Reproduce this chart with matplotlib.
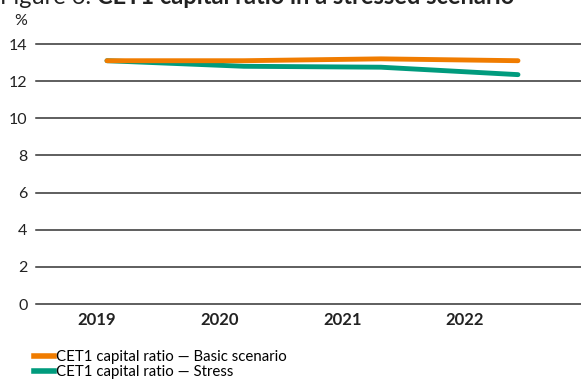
import matplotlib
matplotlib.use("Agg")
import matplotlib.pyplot as plt
from matplotlib.lines import Line2D

plt.rcParams['font.family'] = ['Lato', 'DejaVu Sans']

years = ["2019", "2020", "2021", "2022"]
basic = [13.1, 13.1, 13.2, 13.1]
stress = [13.1, 12.8, 12.75, 12.35]
yticks = [0, 2, 4, 6, 8, 10, 12, 14]

ORANGE = "#f07c00"
GREEN = "#009b7d"

fig = plt.figure(figsize=(5.81, 3.84), dpi=100)
ax = fig.add_axes([36 / 581, 80 / 384, 545 / 581, 260 / 384])

x = range(len(years))
ax.plot(x, basic, color=ORANGE, lw=3.5, solid_capstyle="round", zorder=3)
ax.plot(x, stress, color=GREEN, lw=3.5, solid_capstyle="round", zorder=2)

ax.set_xlim(-0.518, 3.46)
ax.set_ylim(0, 14)
ax.set_yticks(yticks)
ax.set_yticklabels([str(v) for v in yticks], fontsize=11.5, color="#222222")
for v in yticks:
    ax.axhline(v, color="#333333", lw=1.1, zorder=1, clip_on=False)

# year labels sit slightly left of the plotted points
ax.set_xticks([-0.073, 0.825, 1.72, 2.61])
ax.set_xticklabels(years, fontsize=12, fontweight="bold", color="#222222")
ax.tick_params(axis="both", length=0)
ax.tick_params(axis="x", pad=6)
ax.tick_params(axis="y", pad=6)
for s in ax.spines.values():
    s.set_visible(False)

ax.text(14 / 581, 1 - 21 / 384, "%", transform=fig.transFigure,
        fontsize=11.5, color="#222222", va="center", ha="left")

# figure title, partly above the top edge
title_y = 1 - 4 / 384
t1 = fig.text(0.0, title_y, "Figure 6. ", fontsize=17,
              color="#222222", va="baseline", ha="left")
fig.canvas.draw()
bb = t1.get_window_extent()
fig.text(bb.x1 / fig.bbox.width, title_y,
         "CET1 capital ratio in a stressed scenario",
         fontsize=17, fontweight="bold", color="#222222",
         va="baseline", ha="left")

handles = [Line2D([], [], color=ORANGE, lw=4),
           Line2D([], [], color=GREEN, lw=4)]
labels = ["CET1 capital ratio \u2014 Basic scenario",
          "CET1 capital ratio \u2014 Stress"]
fig.legend(handles, labels, loc="upper left",
           bbox_to_anchor=(34 / 581, 1 - 350 / 384),
           frameon=False, fontsize=10.8, handlelength=1.3,
           handletextpad=0.2, labelspacing=0.05, borderpad=0,
           borderaxespad=0)

fig.savefig("out.png", dpi=100)
